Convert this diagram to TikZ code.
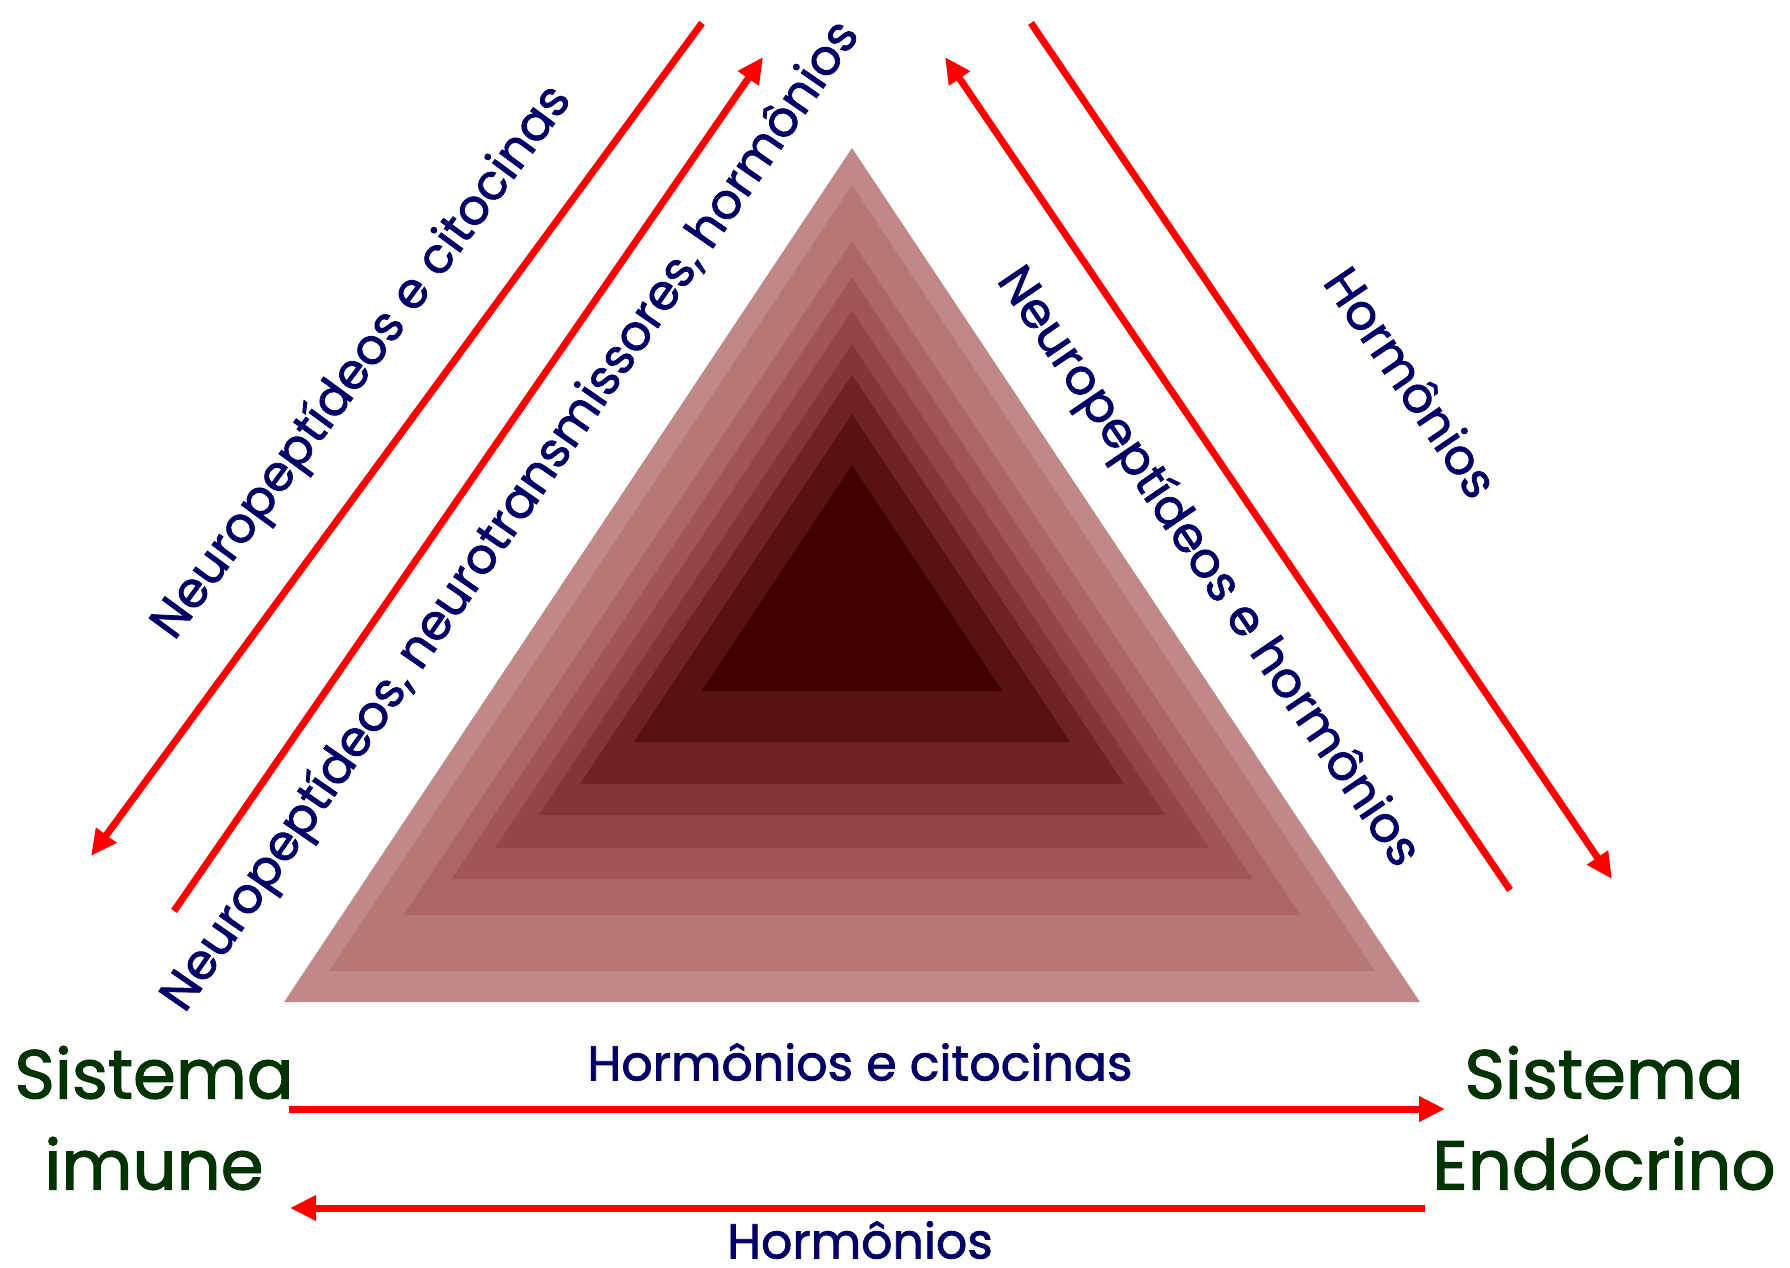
\documentclass[tikz,border=0pt]{standalone}
\usepackage{fontspec}
\setmainfont{Poppins}
\newfontfamily\labelfont{Poppins}[FakeBold=1.6]
\usetikzlibrary{positioning,arrows.meta}

\definecolor{labelblue}{HTML}{000066}
\definecolor{sysgreen}{HTML}{003300}
\definecolor{arrowred}{HTML}{FF0000}
% bands of the triangle, outside to inside
\definecolor{band0}{HTML}{C08888}
\definecolor{band1}{HTML}{B77777}
\definecolor{band2}{HTML}{AD6666}
\definecolor{band3}{HTML}{A05656}
\definecolor{band4}{HTML}{924646}
\definecolor{band5}{HTML}{843636}
\definecolor{band6}{HTML}{702222}
\definecolor{band7}{HTML}{591212}
\definecolor{band8}{HTML}{420000}

\tikzset{
  flow/.style={draw=arrowred, line width=7pt, -{Triangle[length=26pt,width=24pt]}},
  msg/.style={text=labelblue, font=\labelfont\fontsize{49}{54}\selectfont, inner sep=0pt},
  system/.style={text=sysgreen, font=\labelfont\fontsize{69}{91}\selectfont, align=center, inner sep=0pt},
}

\begin{document}
\begin{tikzpicture}[x=1pt,y=-1pt]
\useasboundingbox (0,0) rectangle (1790,1268);
\fill[white] (0,0) rectangle (1790,1268);

% stepped triangle
\foreach \i/\ap/\bs in {0/148/1002,1/185/971,2/241/915,3/277/879,4/311/848,5/344/815,6/375/784,7/414/742,8/465/691}
  \fill[band\i] (852,\ap) -- ({852-0.665*(\bs-\ap)},\bs) -- ({852+0.665*(\bs-\ap)},\bs) -- cycle;

% arrow ends
\coordinate (ltA) at (702,23);
\coordinate (ltB) at (91,856);
\coordinate (liA) at (174,911);
\coordinate (liB) at (763,57);
\coordinate (riA) at (1510,890);
\coordinate (riB) at (945,57);
\coordinate (rtA) at (1031,23);
\coordinate (rtB) at (1612,879);
\coordinate (btA) at (289,1109);
\coordinate (btB) at (1445,1109);
\coordinate (bbA) at (1425,1208);
\coordinate (bbB) at (290,1208);

\draw[flow] (ltA) -- (ltB);
\draw[flow] (liA) -- (liB);
\draw[flow] (riA) -- (riB);
\draw[flow] (rtA) -- (rtB);
\draw[flow] (btA) -- (btB);
\draw[flow] (bbA) -- (bbB);

% labels
\node[msg, rotate=53.7] (neuroCit) at (363,363) {Neuropeptídeos e citocinas};
\node[msg, rotate=55.4] (neuroAll) at (512,517) {Neuropeptídeos, neurotransmissores, hormônios};
\node[msg, rotate=-55.8] (neuroHorm) at (1207,568) {Neuropeptídeos e hormônios};
\node[msg, rotate=-55.8] (hormRight) at (1412,382) {Hormônios};
\node[msg] (hormCit) at (860,1062) {Hormônios e citocinas};
\node[msg] (hormBottom) at (860,1240) {Hormônios};

\node[system] (imune) at (154,1118) {Sistema\\imune};
\node[system] (endo) at (1604,1118) {Sistema\\Endócrino};
\end{tikzpicture}
\end{document}
